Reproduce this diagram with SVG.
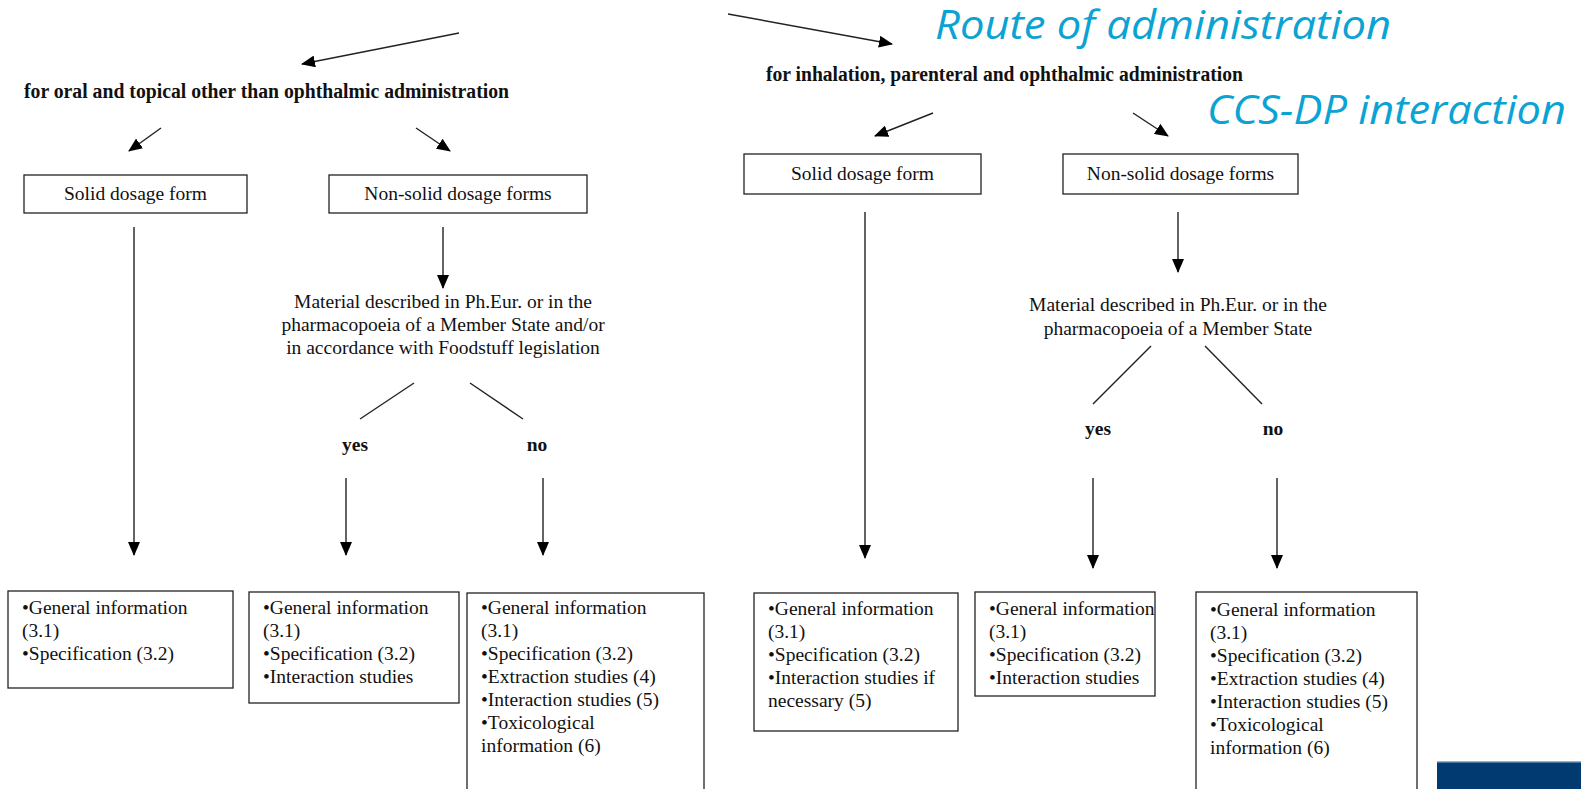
<svg xmlns="http://www.w3.org/2000/svg" width="1581" height="789" viewBox="0 0 1581 789">
  <defs>
    <marker id="arrow" viewBox="0 0 14 12" refX="13" refY="6" markerWidth="14" markerHeight="12" markerUnits="userSpaceOnUse" orient="auto">
      <path d="M0,0 L14,6 L0,12 Z" fill="#000"/>
    </marker>
    <style>
      .txt { font-size: 19.5px; fill: #111; }
      .mid { text-anchor: middle; }
      .bold { font-weight: bold; }
      .hdr { font-size: 20px; font-weight: bold; fill: #111; }
      .note { font-style: italic; font-size: 40px; fill: #0aa3d4; }
      .box { fill: #fff; stroke: #222; stroke-width: 1.3; }
      .line { stroke: #222; stroke-width: 1.4; fill: none; }
      .arr { stroke: #222; stroke-width: 1.4; fill: none; marker-end: url(#arrow); }
    </style>
  </defs>

  <rect width="1581" height="789" fill="#fff"/>

  <!-- overlay labels -->
  <g font-family="Open Sans, Liberation Sans, sans-serif">
    <text class="note" x="935" y="39" textLength="456" lengthAdjust="spacingAndGlyphs">Route of administration</text>
    <text class="note" x="1207" y="124" textLength="359" lengthAdjust="spacingAndGlyphs">CCS-DP interaction</text>
  </g>

  <g font-family="Liberation Serif, Tinos, Times New Roman, DejaVu Serif, serif">
    <!-- route headings -->
    <g id="route-oral">
      <text class="hdr" x="24" y="98" textLength="485" lengthAdjust="spacingAndGlyphs">for oral and topical other than ophthalmic administration</text>
    </g>
    <g id="route-inhalation">
      <text class="hdr" x="766" y="81" textLength="477" lengthAdjust="spacingAndGlyphs">for inhalation, parenteral and ophthalmic administration</text>
    </g>

    <!-- dosage form boxes -->
    <g id="oral-solid">
      <rect class="box" x="24" y="175" width="223" height="38"/>
      <text class="txt mid" x="135.5" y="200">Solid dosage form</text>
    </g>
    <g id="oral-nonsolid">
      <rect class="box" x="329" y="175" width="258" height="38"/>
      <text class="txt mid" x="458" y="200">Non-solid dosage forms</text>
    </g>
    <g id="inh-solid">
      <rect class="box" x="744" y="154" width="237" height="40"/>
      <text class="txt mid" x="862.5" y="180">Solid dosage form</text>
    </g>
    <g id="inh-nonsolid">
      <rect class="box" x="1063" y="154" width="235" height="40"/>
      <text class="txt mid" x="1180.5" y="180">Non-solid dosage forms</text>
    </g>

    <!-- pharmacopoeia questions -->
    <g id="oral-question">
      <text class="txt mid" x="443" y="308">Material described in Ph.Eur. or in the</text>
      <text class="txt mid" x="443" y="331">pharmacopoeia of a Member State and/or</text>
      <text class="txt mid" x="443" y="354">in accordance with Foodstuff legislation</text>
    </g>
    <g id="inh-question">
      <text class="txt mid" x="1178" y="311">Material described in Ph.Eur. or in the</text>
      <text class="txt mid" x="1178" y="335">pharmacopoeia of a Member State</text>
    </g>

    <!-- yes / no labels -->
    <g id="oral-yes"><text class="txt mid bold" x="355" y="451">yes</text></g>
    <g id="oral-no"><text class="txt mid bold" x="537" y="451">no</text></g>
    <g id="inh-yes"><text class="txt mid bold" x="1098" y="435">yes</text></g>
    <g id="inh-no"><text class="txt mid bold" x="1273" y="435">no</text></g>

    <!-- outcome boxes -->
    <g id="oral-solid-result">
      <rect class="box" x="8" y="591" width="225" height="97"/>
      <text class="txt" x="22" y="614">•General information</text>
      <text class="txt" x="22" y="637">(3.1)</text>
      <text class="txt" x="22" y="660">•Specification (3.2)</text>
    </g>
    <g id="oral-yes-result">
      <rect class="box" x="249" y="592" width="210" height="111"/>
      <text class="txt" x="263" y="614">•General information</text>
      <text class="txt" x="263" y="637">(3.1)</text>
      <text class="txt" x="263" y="660">•Specification (3.2)</text>
      <text class="txt" x="263" y="683">•Interaction studies</text>
    </g>
    <g id="oral-no-result">
      <rect class="box" x="467" y="593" width="237" height="205"/>
      <text class="txt" x="481" y="614">•General information</text>
      <text class="txt" x="481" y="637">(3.1)</text>
      <text class="txt" x="481" y="660">•Specification (3.2)</text>
      <text class="txt" x="481" y="683">•Extraction studies (4)</text>
      <text class="txt" x="481" y="706">•Interaction studies (5)</text>
      <text class="txt" x="481" y="729">•Toxicological</text>
      <text class="txt" x="481" y="752">information (6)</text>
    </g>
    <g id="inh-solid-result">
      <rect class="box" x="754" y="593" width="204" height="138"/>
      <text class="txt" x="768" y="615">•General information</text>
      <text class="txt" x="768" y="638">(3.1)</text>
      <text class="txt" x="768" y="661">•Specification (3.2)</text>
      <text class="txt" x="768" y="684">•Interaction studies if</text>
      <text class="txt" x="768" y="707">necessary (5)</text>
    </g>
    <g id="inh-yes-result">
      <rect class="box" x="975" y="592" width="180" height="104"/>
      <text class="txt" x="989" y="615">•General information</text>
      <text class="txt" x="989" y="638">(3.1)</text>
      <text class="txt" x="989" y="661">•Specification (3.2)</text>
      <text class="txt" x="989" y="684">•Interaction studies</text>
    </g>
    <g id="inh-no-result">
      <rect class="box" x="1196" y="592" width="221" height="206"/>
      <text class="txt" x="1210" y="616">•General information</text>
      <text class="txt" x="1210" y="639">(3.1)</text>
      <text class="txt" x="1210" y="662">•Specification (3.2)</text>
      <text class="txt" x="1210" y="685">•Extraction studies (4)</text>
      <text class="txt" x="1210" y="708">•Interaction studies (5)</text>
      <text class="txt" x="1210" y="731">•Toxicological</text>
      <text class="txt" x="1210" y="754">information (6)</text>
    </g>
  </g>

  <!-- footer band -->
  <rect x="1437" y="761" width="144" height="28" fill="#003a70"/>
  <rect x="1437" y="761" width="144" height="1.5" fill="#8fb3cf"/>

  <!-- connectors -->
  <g id="connectors">
    <line class="arr" x1="459" y1="33" x2="302" y2="64"/>
    <line class="arr" x1="728" y1="14" x2="892" y2="44"/>

    <line class="arr" x1="161" y1="128" x2="129" y2="151"/>
    <line class="arr" x1="416" y1="128" x2="450" y2="151"/>
    <line class="arr" x1="933" y1="113" x2="875" y2="136"/>
    <line class="arr" x1="1133" y1="113" x2="1168" y2="136"/>

    <line class="arr" x1="134" y1="227" x2="134" y2="555"/>
    <line class="arr" x1="443" y1="227" x2="443" y2="288"/>
    <line class="line" x1="414" y1="383" x2="360" y2="419"/>
    <line class="line" x1="470" y1="383" x2="523" y2="419"/>
    <line class="arr" x1="346" y1="478" x2="346" y2="555"/>
    <line class="arr" x1="543" y1="478" x2="543" y2="555"/>

    <line class="arr" x1="865" y1="212" x2="865" y2="558"/>
    <line class="arr" x1="1178" y1="212" x2="1178" y2="272"/>
    <line class="line" x1="1151" y1="346" x2="1093" y2="404"/>
    <line class="line" x1="1205" y1="346" x2="1262" y2="404"/>
    <line class="arr" x1="1093" y1="478" x2="1093" y2="568"/>
    <line class="arr" x1="1277" y1="478" x2="1277" y2="568"/>
  </g>
</svg>
